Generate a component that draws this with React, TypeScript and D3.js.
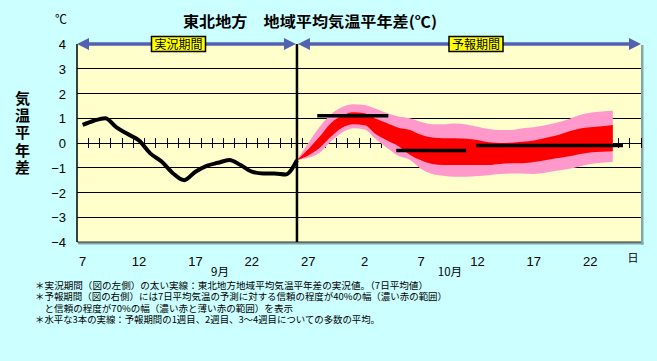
import { useEffect, useRef } from 'react';
import * as d3 from 'd3';

const W = 657;
const H = 361;

// day index 0 = Sep 7
const obsDays = d3.range(0, 20);
const observed = [0.73, 0.9, 1.0, 0.63, 0.36, 0.1, -0.42, -0.75, -1.22, -1.5, -1.16, -0.92, -0.8, -0.69, -0.89, -1.16, -1.23, -1.23, -1.27, -0.69];

// forecast band, day index 19..47
const fcDays = d3.range(19, 48);
const hi70 = [-0.69, 0.0, 0.65, 1.15, 1.45, 1.57, 1.54, 1.38, 1.2, 1.07, 1.0, 0.85, 0.76, 0.76, 0.79, 0.75, 0.66, 0.57, 0.53, 0.53, 0.6, 0.64, 0.72, 0.82, 0.95, 1.12, 1.22, 1.27, 1.3];
const hi40 = [-0.69, -0.25, 0.25, 0.8, 1.1, 1.24, 1.2, 0.98, 0.8, 0.62, 0.53, 0.33, 0.22, 0.19, 0.19, 0.17, 0.12, 0.03, 0.0, 0.01, 0.05, 0.1, 0.2, 0.3, 0.45, 0.58, 0.64, 0.68, 0.73];
const lo40 = [-0.69, -0.5, -0.2, 0.25, 0.62, 0.76, 0.72, 0.35, 0.1, -0.13, -0.47, -0.7, -0.85, -0.89, -0.89, -0.89, -0.89, -0.89, -0.85, -0.82, -0.82, -0.77, -0.7, -0.62, -0.55, -0.45, -0.38, -0.35, -0.33];
const lo70 = [-0.69, -0.6, -0.4, 0.05, 0.42, 0.6, 0.55, 0.15, -0.2, -0.52, -0.68, -1.05, -1.25, -1.32, -1.36, -1.36, -1.33, -1.3, -1.25, -1.23, -1.23, -1.25, -1.2, -1.12, -1.05, -0.96, -0.85, -0.8, -0.76];

// weekly means: [start, end, value]
const weekMeans: [number, number, number][] = [
  [20.8, 27.1, 1.1],
  [27.8, 34.0, -0.3],
  [34.9, 47.9, -0.1],
];

const yTicks = [4, 3, 2, 1, 0, -1, -2, -3, -4];
const xTickDays = [0, 5, 10, 15, 20, 25, 30, 35, 40, 45];
const xTickLabels = ['7', '12', '17', '22', '27', '2', '7', '12', '17', '22'];
const notes = [
  '＊実況期間（図の左側）の太い実線：東北地方地域平均気温平年差の実況値。（7日平均値）',
  '＊予報期間（図の右側）には7日平均気温の予測に対する信頼の程度が40%の幅（濃い赤の範囲）',
  '　と信頼の程度が70%の幅（濃い赤と薄い赤の範囲）を表示',
  '＊水平な3本の実線：予報期間の1週目、2週目、3〜4週目についての多数の平均。',
];
const noteWidths = [393, 412, 258, 345];

const JP = '"Noto Sans CJK JP", sans-serif';
const NUM = '"Liberation Sans", Arial, sans-serif';

export default function App() {
  const svgRef = useRef<SVGSVGElement>(null);

  useEffect(() => {
    document.body.style.margin = '0';
    const svg = d3.select(svgRef.current);
    svg.selectAll('*').remove();

    const x = d3.scaleLinear().domain([-0.5, 49.5]).range([77, 641]);
    const y = d3.scaleLinear().domain([-4, 4]).range([242, 44]);
    const [x0, x1] = x.range();
    const splitX = x(19);

    svg.append('rect').attr('width', W).attr('height', H).attr('fill', '#ccffff');

    // plot area + shadow
    svg.append('rect').attr('x', x1).attr('y', y(4) + 1).attr('width', 2.5).attr('height', y(-4) - y(4) + 1.5).attr('fill', '#80a8a8');
    svg.append('rect').attr('x', x0 + 1).attr('y', y(-4)).attr('width', x1 - x0 + 1.5).attr('height', 2.5).attr('fill', '#80a8a8');
    svg.append('rect').attr('x', x0).attr('y', y(4)).attr('width', x1 - x0).attr('height', y(-4) - y(4)).attr('fill', '#ffffcc');

    // grid
    svg.append('g').selectAll('line').data(yTicks.filter(v => v !== 4 && v !== -4)).join('line')
      .attr('x1', x0).attr('x2', x1).attr('y1', d => y(d)).attr('y2', d => y(d))
      .attr('stroke', '#000').attr('stroke-width', 1).attr('shape-rendering', 'crispEdges');
    svg.append('line').attr('x1', x0).attr('x2', x1).attr('y1', y(-4)).attr('y2', y(-4))
      .attr('stroke', '#333').attr('stroke-width', 1);
    // ticks on zero line at day boundaries
    svg.append('g').selectAll('line').data(d3.range(0.5, 49.6, 1)).join('line')
      .attr('x1', d => x(d)).attr('x2', d => x(d)).attr('y1', y(0) - 5).attr('y2', y(0) + 5)
      .attr('stroke', '#000').attr('stroke-width', 1).attr('shape-rendering', 'crispEdges');

    // forecast band
    const band = (lo: number[], hi: number[]) => d3.area<number>()
      .x(d => x(d)).y0((_, i) => y(lo[i])).y1((_, i) => y(hi[i])).curve(d3.curveMonotoneX)(fcDays);
    svg.append('path').attr('d', band(lo70, hi70)).attr('fill', '#ff99cc');
    svg.append('path').attr('d', band(lo40, hi40)).attr('fill', '#ff0000');

    // weekly means
    svg.append('g').selectAll('line').data(weekMeans).join('line')
      .attr('x1', d => x(d[0])).attr('x2', d => x(d[1])).attr('y1', d => y(d[2])).attr('y2', d => y(d[2]))
      .attr('stroke', '#000').attr('stroke-width', 3.5);

    // left axis line
    svg.append('line').attr('x1', x0).attr('x2', x0).attr('y1', y(4)).attr('y2', y(-4))
      .attr('stroke', '#000').attr('stroke-width', 1.5);

    // split line
    svg.append('line').attr('x1', splitX).attr('x2', splitX).attr('y1', y(4)).attr('y2', y(-4))
      .attr('stroke', '#000').attr('stroke-width', 2.5);

    // observed
    const line = d3.line<number>().x(d => x(d)).y((_, i) => y(observed[i])).curve(d3.curveMonotoneX);
    svg.append('path').attr('d', line(obsDays)).attr('fill', 'none').attr('stroke', '#000')
      .attr('stroke-width', 4).attr('stroke-linejoin', 'round');

    // period arrows
    const arrowC = '#5261b0';
    const ya = y(4);
    const arrow = (a: number, b: number) => {
      const g = svg.append('g');
      g.append('line').attr('x1', a + 6).attr('x2', b - 6).attr('y1', ya).attr('y2', ya).attr('stroke', arrowC).attr('stroke-width', 3.5);
      g.append('path').attr('d', `M${a},${ya}L${a + 12},${ya - 6}L${a + 12},${ya + 6}Z`).attr('fill', arrowC);
      g.append('path').attr('d', `M${b},${ya}L${b - 12},${ya - 6}L${b - 12},${ya + 6}Z`).attr('fill', arrowC);
    };
    arrow(x0, splitX - 1);
    arrow(splitX + 1, x1);

    const tag = (cx: number, label: string) => {
      svg.append('rect').attr('x', cx - 27).attr('y', 36.5).attr('width', 54).attr('height', 15)
        .attr('fill', '#ffff00').attr('stroke', '#000').attr('stroke-width', 1.5);
      svg.append('text').attr('x', cx).attr('y', 48.5).attr('text-anchor', 'middle')
        .attr('font-family', JP).attr('font-size', 12).attr('fill', '#000').text(label);
    };
    tag(178.5, '実況期間');
    tag(476, '予報期間');

    // title & units
    svg.append('text').attr('x', 183).attr('y', 27).attr('font-family', JP).attr('font-size', 15)
      .attr('font-weight', 'bold').attr('textLength', 254).attr('lengthAdjust', 'spacingAndGlyphs')
      .text('東北地方　地域平均気温平年差(℃)');
    svg.append('text').attr('x', 61).attr('y', 24).attr('text-anchor', 'middle').attr('font-family', JP)
      .attr('font-size', 12).text('℃');

    // y tick labels
    svg.append('g').selectAll('text').data(yTicks).join('text')
      .attr('x', 66).attr('y', d => y(d) + 5).attr('text-anchor', 'end')
      .attr('font-family', NUM).attr('font-size', 13).attr('fill', '#000')
      .text(d => (d < 0 ? '−' + Math.abs(d) : String(d)));

    // y title, vertical
    svg.append('g').selectAll('text').data('気温平年差'.split('')).join('text')
      .attr('x', 22.5).attr('y', (_, i) => 104 + i * 17.2).attr('text-anchor', 'middle')
      .attr('font-family', JP).attr('font-size', 15).attr('font-weight', 'bold').text(d => d);

    // x labels
    svg.append('g').selectAll('text').data(xTickDays).join('text')
      .attr('x', d => x(d)).attr('y', 266).attr('text-anchor', 'middle')
      .attr('font-family', NUM).attr('font-size', 13).text((_, i) => xTickLabels[i]);
    svg.append('text').attr('x', 220).attr('y', 276).attr('text-anchor', 'middle').attr('font-family', JP).attr('font-size', 11.5).text('9月');
    svg.append('text').attr('x', 450).attr('y', 276).attr('text-anchor', 'middle').attr('font-family', JP).attr('font-size', 11.5).text('10月');
    svg.append('text').attr('x', 633).attr('y', 262).attr('text-anchor', 'middle').attr('font-family', JP).attr('font-size', 11).text('日');

    // notes
    svg.append('g').selectAll('text').data(notes).join('text')
      .attr('x', 35).attr('y', (_, i) => 289 + i * 11.4).attr('font-family', JP).attr('font-size', 9.5)
      .attr('textLength', (_, i) => noteWidths[i]).attr('lengthAdjust', 'spacingAndGlyphs')
      .text(d => d);
  }, []);

  return <svg ref={svgRef} width={W} height={H} style={{ display: 'block' }} />;
}
